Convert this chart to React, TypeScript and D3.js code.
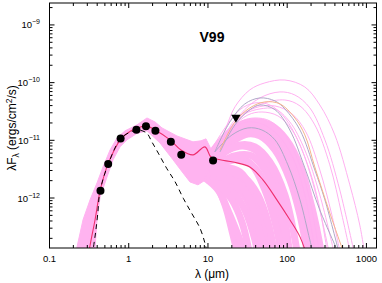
import React from "react";
import * as d3 from "d3";

type Pt = [number, number];

const W = 382;
const H = 283;

// axes
const xTickValues = [0.1, 1, 10, 100, 1000];
const xTickLabels = ["0.1", "1", "10", "100", "1000"];
const yTickValues = [1e-12, 1e-11, 1e-10, 1e-9];
const yTickExponents = ["\u221212", "\u221211", "\u221210", "\u22129"];

// photometry (um, erg/cm2/s)
const obsWave = [0.44, 0.55, 0.79, 1.25, 1.65, 2.17, 3.4, 4.6, 11.6];
const obsFlux = [1.33e-12, 3.9e-12, 1.07e-11, 1.53e-11, 1.75e-11, 1.46e-11, 9.4e-12, 5.6e-12, 4.45e-12];
const limitWave = [22.5];
const limitFlux = [2.5e-11];

// stellar photosphere
const photosphere: Pt[] = [
  [0.35, 1.0e-13], [0.358, 1.36e-13], [0.381, 2.48e-13], [0.405, 5.1e-13], [0.435, 1.33e-12],
  [0.553, 3.9e-12], [0.792, 1.07e-11], [1.09, 1.42e-11], [1.32, 1.51e-11], [1.69, 1.33e-11],
  [1.95, 9.5e-12], [2.36, 6.0e-12], [3.01, 3.28e-12], [3.84, 1.92e-12], [4.88, 9.9e-13],
  [6.22, 5.46e-13], [7.93, 3.0e-13], [9.16, 1.65e-13], [9.8, 1.1e-13], [10.2, 0.9e-13],
];

// best fit model
const bestFit: Pt[] = [
  [0.307, 1.0e-13], [0.335, 1.88e-13], [0.376, 4.2e-13], [0.435, 1.33e-12], [0.548, 3.9e-12],
  [0.8, 1.06e-11], [1.07, 1.46e-11], [1.31, 1.64e-11], [1.65, 1.78e-11], [2.15, 1.51e-11],
  [3.32, 1.02e-11], [4.57, 6.8e-12], [6.47, 5.6e-12], [9.16, 7.7e-12], [10.9, 5.15e-12],
  [14.2, 4.6e-12], [20.7, 4.2e-12], [33.8, 3.46e-12], [49.4, 2.06e-12], [74.1, 9.3e-13],
  [108, 4.2e-13], [145, 2.12e-13], [177, 1.0e-13],
];

// envelope of the model grid, optical to mid-IR
const bandUpper: Pt[] = [
  [0.21, 1.0e-13], [0.223, 1.44e-13], [0.265, 4.2e-13], [0.325, 9.3e-13], [0.398, 1.83e-12],
  [0.474, 3.46e-12], [0.581, 6.8e-12], [0.712, 1.1e-11], [0.898, 1.46e-11], [1.27, 1.85e-11],
  [1.7, 2.44e-11], [2.15, 2.08e-11], [2.63, 1.64e-11], [4.06, 1.19e-11], [6.47, 9.4e-12],
  [8.16, 9.8e-12], [9.44, 1.06e-11], [10.9, 7.1e-12], [12.2, 6.05e-12],
];
const bandLower: Pt[] = [
  [12.2, 2.41e-12], [9.71, 2.14e-12], [7.48, 1.69e-12], [5.93, 1.9e-12], [4.84, 2.72e-12],
  [3.62, 4.6e-12], [2.48, 9.0e-12], [1.7, 1.46e-11], [1.27, 1.32e-11], [0.952, 1.02e-11],
  [0.776, 7.7e-12], [0.634, 4.6e-12], [0.532, 2.32e-12], [0.435, 1.04e-12], [0.398, 4.2e-13],
  [0.376, 1.36e-13], [0.371, 1.0e-13],
];

// individual far-IR models (sparse, upper)
const farTop: Pt[] = [[12.2, 6.8e-12], [16.4, 1.51e-11], [21.9, 3.8e-11], [33.8, 7.5e-11], [52.3, 9.9e-11], [93.5, 1.11e-10], [167, 8.4e-11], [258, 4.1e-11], [399, 1.24e-11], [617, 1.69e-12], [824, 3.4e-13], [960, 1.0e-13]];
const farOrange: Pt[] = [[14.2, 6.8e-12], [21.9, 2.08e-11], [33.8, 3.65e-11], [52.3, 4.63e-11], [80.9, 4.28e-11], [125, 2.44e-11], [167, 1.24e-11], [223, 3.46e-12], [345, 5.5e-13], [533, 1.0e-13]];
const farGrayA: Pt[] = [[14.2, 6.3e-12], [21.9, 1.85e-11], [33.8, 3.4e-11], [45.3, 4.1e-11], [70.0, 3.4e-11], [108, 1.51e-11], [167, 3.33e-12], [258, 6.2e-13], [461, 1.0e-13]];
const farGrayB: Pt[] = [[12.2, 6.3e-12], [18.9, 2.08e-11], [29.2, 4.28e-11], [45.3, 5.43e-11], [70, 4.82e-11], [93.5, 3.5e-11], [145, 1.51e-11], [223, 3.07e-12], [299, 9.3e-13], [461, 1.0e-13]];
const farE: Pt[] = [[12.2, 6.3e-12], [18.9, 1.64e-11], [29.2, 2.87e-11], [45.3, 3.5e-11], [70, 3.5e-11], [108, 2.08e-11], [167, 6.8e-12], [258, 1.13e-12], [399, 1.0e-13]];
const farF: Pt[] = [[10.6, 6.3e-12], [16.4, 1.64e-11], [25.3, 3.4e-11], [39.2, 4.45e-11], [60.5, 4.1e-11], [93.5, 2.44e-11], [145, 8.3e-12], [223, 1.38e-12], [345, 1.0e-13]];
const farG: Pt[] = [[14.2, 6.8e-12], [25.3, 2.75e-11], [45.3, 5.43e-11], [80.9, 6.9e-11], [125, 6.1e-11], [193, 3.65e-11], [299, 1.02e-11], [461, 1.38e-12], [713, 1.0e-13]];
const farTh1: Pt[] = [[12.2, 6.3e-12], [20.1, 1.64e-11], [31.9, 2.75e-11], [48.0, 3.1e-11], [76.4, 2.65e-11], [115, 1.51e-11], [172, 4.6e-12], [244, 9.3e-13], [326, 1.0e-13]];
const farTh2: Pt[] = [[10.6, 5.6e-12], [17.9, 1.4e-11], [26.8, 2.17e-11], [39.2, 2.44e-11], [60.5, 2.17e-11], [93.5, 1.24e-11], [136, 4.6e-12], [193, 9.3e-13], [258, 1.0e-13]];
const farTh3: Pt[] = [[13.4, 6.8e-12], [21.9, 2.26e-11], [39.2, 3.65e-11], [70, 3.94e-11], [115, 2.87e-11], [172, 1.4e-11], [258, 3.07e-12], [366, 5.1e-13], [475, 1.0e-13]];
const farTh4: Pt[] = [[10.6, 4.95e-12], [16.4, 1.15e-11], [23.2, 1.78e-11], [31.9, 2.08e-11], [48.0, 1.92e-11], [76.4, 1.24e-11], [118, 4.95e-12], [167, 1.13e-12], [230, 1.0e-13]];
const farTh5: Pt[] = [[15.0, 7.4e-12], [25.3, 2.44e-11], [48.0, 4.28e-11], [93.5, 5.0e-11], [145, 3.94e-11], [223, 1.85e-11], [345, 3.75e-12], [490, 5.1e-13], [636, 1.0e-13]];

// dense family
const farH: Pt[] = [[10.6, 5.6e-12], [15.0, 1.02e-11], [21.9, 1.64e-11], [33.8, 2.08e-11], [52.3, 1.92e-11], [80.9, 1.24e-11], [125, 4.6e-12], [193, 9.3e-13], [274, 1.0e-13]];
const farI: Pt[] = [[10.6, 4.6e-12], [16.4, 9.0e-12], [25.3, 1.4e-11], [39.2, 1.64e-11], [60.5, 1.4e-11], [93.5, 6.8e-12], [145, 1.69e-12], [223, 1.0e-13]];
const farJ: Pt[] = [[10.6, 3.75e-12], [15.0, 6.8e-12], [21.9, 1.02e-11], [31.9, 1.29e-11], [45.3, 1.19e-11], [70, 6.8e-12], [108, 2.06e-12], [145, 5.1e-13], [182, 1.0e-13]];
const farK: Pt[] = [[10.6, 3.07e-12], [16.4, 6.3e-12], [25.3, 8.3e-12], [39.2, 7.7e-12], [60.5, 4.2e-12], [93.5, 1.13e-12], [136, 1.0e-13]];
const farL: Pt[] = [[10.6, 2.51e-12], [16.4, 4.05e-12], [25.3, 4.6e-12], [39.2, 3.33e-12], [60.5, 1.13e-12], [88.3, 1.0e-13]];
const farM: Pt[] = [[10.6, 2.23e-12], [15.0, 2.51e-12], [21.9, 2.41e-12], [33.8, 1.38e-12], [48.0, 4.2e-13], [64.1, 1.0e-13]];
const farN: Pt[] = [[9.16, 2.51e-12], [12.2, 1.9e-12], [16.4, 7.6e-13], [20.7, 2.3e-13], [23.9, 1.0e-13]];
const farO: Pt[] = [[9.16, 2.23e-12], [13.4, 1.38e-12], [18.9, 5.1e-13], [25.3, 1.88e-13], [30.1, 1.0e-13]];
const farP: Pt[] = [[10.6, 3.33e-12], [16.4, 4.6e-12], [25.3, 4.95e-12], [35.9, 3.75e-12], [52.3, 1.38e-12], [70, 3.86e-13], [85.7, 1.0e-13]];
const farQ: Pt[] = [[12.2, 6.8e-12], [18.9, 1.34e-11], [29.2, 1.92e-11], [45.3, 2.08e-11], [70, 1.64e-11], [108, 8.3e-12], [167, 2.06e-12], [250, 1.0e-13]];
const farS: Pt[] = [[9.71, 2.41e-12], [14.2, 2.06e-12], [20.1, 1.38e-12], [29.2, 6.2e-13], [39.2, 1.88e-13], [42.7, 1.0e-13]];
const farT: Pt[] = [[10.6, 2.83e-12], [16.4, 3.33e-12], [25.3, 2.83e-12], [35.9, 1.38e-12], [48.0, 3.4e-13], [53.9, 1.0e-13]];
const farU: Pt[] = [[10.6, 4.05e-12], [17.9, 6.8e-12], [27.6, 8.0e-12], [42.7, 6.3e-12], [64.1, 2.51e-12], [88.3, 6.2e-13], [108, 1.0e-13]];
const farV: Pt[] = [[10.6, 5.6e-12], [17.9, 1.02e-11], [29.2, 1.34e-11], [48.0, 1.34e-11], [74.1, 9.4e-12], [115, 3.07e-12], [153, 6.2e-13], [182, 1.0e-13]];
const farX: Pt[] = [[10.6, 2.83e-12], [16.4, 4.6e-12], [25.3, 5.6e-12], [35.9, 5.37e-12], [52.3, 3.07e-12], [76.4, 9.3e-13], [105, 1.0e-13]];
const farY: Pt[] = [[9.71, 2.06e-12], [15.0, 1.83e-12], [21.9, 1.62e-12], [31.0, 9.3e-13], [40.3, 3.4e-13], [48.0, 1.0e-13]];
const farZ1: Pt[] = [[9.71, 2.23e-12], [14.2, 1.62e-12], [20.1, 9.3e-13], [26.8, 3.86e-13], [33.8, 1.0e-13]];
const farZ2: Pt[] = [[10.6, 2.41e-12], [16.4, 2.23e-12], [25.3, 1.69e-12], [33.8, 9.3e-13], [42.7, 3.4e-13], [52.3, 1.0e-13]];
const farZ3: Pt[] = [[10.6, 2.62e-12], [17.9, 2.83e-12], [29.2, 2.23e-12], [42.7, 1.13e-12], [57.1, 3.86e-13], [70, 1.0e-13]];
const farW: Pt[] = [[12.2, 6.3e-12], [20.1, 1.24e-11], [31.9, 1.64e-11], [48.0, 1.51e-11], [70, 1.02e-11], [102, 3.75e-12], [145, 9.3e-13], [193, 1.88e-13], [217, 1.0e-13]];

const denseModels = [farH, farI, farJ, farK, farL, farM, farN, farO, farP, farQ, farS, farT, farU, farV, farX, farY, farZ1, farZ2, farZ3];
const thinModels = [farTop, farE, farF, farG, farTh1, farTh2, farTh3, farTh4, farTh5];
const grayModels = [farGrayA, farGrayB, farW];
const orangeModels = [farOrange];

const PINK = "#ffb3f0";
const PINK_THIN = "#ffb0f0";
const font = "'Liberation Sans', Arial, Helvetica, sans-serif";

export default function App() {
  const left = 49.5, right = 376.5, top = 3, bottom = 248;
  const x = d3.scaleLog().domain([0.1, 1340]).range([left, right]);
  const y = d3.scaleLog().domain([1.36e-13, 2.4e-9]).range([bottom, top]);

  const line = d3
    .line<Pt>()
    .x((d) => x(d[0]))
    .y((d) => y(d[1]))
    .curve(d3.curveCatmullRom.alpha(0.5));
  const straight = d3
    .line<Pt>()
    .x((d) => x(d[0]))
    .y((d) => y(d[1]));

  const bandPath = straight([...bandUpper, ...bandLower]) + "Z";

  const xMinor = x.ticks().filter((v) => v <= 1340);
  const yMinor = y.ticks();
  const isMajor = (v: number) => Math.abs(Math.log10(v) - Math.round(Math.log10(v))) < 1e-6;

  const tri = d3.symbol().type(d3.symbolTriangle).size(38)();

  return (
    <svg width={W} height={H} style={{ position: "absolute", left: 0, top: 0, background: "#fff" }} fontFamily={font}>
      <defs>
        <clipPath id="plot">
          <rect x={left} y={top} width={right - left} height={bottom - top} />
        </clipPath>
      </defs>

      <g clipPath="url(#plot)">
        <path d={bandPath} fill={PINK} stroke={PINK} strokeWidth={1} />
        {denseModels.map((m, i) => (
          <path key={"d" + i} d={line(m) || ""} fill="none" stroke={PINK} strokeWidth={7} strokeLinejoin="round" />
        ))}
        {thinModels.map((m, i) => (
          <path key={"t" + i} d={line(m) || ""} fill="none" stroke={PINK_THIN} strokeWidth={1} />
        ))}
        {grayModels.map((m, i) => (
          <path key={"g" + i} d={line(m) || ""} fill="none" stroke="#b0a8c8" strokeWidth={1} />
        ))}
        {orangeModels.map((m, i) => (
          <path key={"o" + i} d={line(m) || ""} fill="none" stroke="#f4b48c" strokeWidth={1} />
        ))}
        <path d={line(bestFit) || ""} fill="none" stroke="#ee2f6e" strokeWidth={1.1} />
        <path d={line(photosphere) || ""} fill="none" stroke="#000" strokeWidth={1} strokeDasharray="5,4" />
        {obsWave.map((w, i) => (
          <circle key={"p" + i} cx={x(w)} cy={y(obsFlux[i])} r={4} fill="#000" />
        ))}
        {limitWave.map((w, i) => (
          <path key={"l" + i} d={tri || ""} transform={`translate(${x(w)},${y(limitFlux[i])}) rotate(180)`} fill="#000" />
        ))}
      </g>

      {/* frame */}
      <rect x={left} y={top} width={right - left} height={bottom - top} fill="none" stroke="#000" strokeWidth={1} />

      {/* ticks on all four sides, pointing inward */}
      {xMinor.map((v, i) => {
        const len = isMajor(v) ? 5 : 3;
        const px = x(v);
        return (
          <g key={"xt" + i} stroke="#000" strokeWidth={1}>
            <line x1={px} x2={px} y1={bottom} y2={bottom - len} />
            <line x1={px} x2={px} y1={top} y2={top + len} />
          </g>
        );
      })}
      {yMinor.map((v, i) => {
        const len = isMajor(v) ? 5 : 3;
        const py = y(v);
        return (
          <g key={"yt" + i} stroke="#000" strokeWidth={1}>
            <line x1={left} x2={left + len} y1={py} y2={py} />
            <line x1={right} x2={right - len} y1={py} y2={py} />
          </g>
        );
      })}

      {xTickValues.map((v, i) => (
        <text key={"xl" + i} x={x(v)} y={262} fontSize={9.5} textAnchor="middle" fill="#000">
          {xTickLabels[i]}
        </text>
      ))}
      {yTickValues.map((v, i) => (
        <text key={"yl" + i} x={40} y={y(v) + 3.5} fontSize={9.5} textAnchor="end" fill="#000">
          10
          <tspan fontSize={7} dy={-4}>
            {yTickExponents[i]}
          </tspan>
        </text>
      ))}

      <text x={212} y={278} fontSize={12} textAnchor="middle" fill="#000">
        {"\u03bb (\u03bcm)"}
      </text>
      <text transform="translate(16,128) rotate(-90)" fontSize={12} textAnchor="middle" fill="#000">
        {"\u03bbF"}
        <tspan fontSize={8.5} dy={2.5}>
          {"\u03bb"}
        </tspan>
        <tspan dy={-2.5}>{" (ergs/cm"}</tspan>
        <tspan fontSize={8.5} dy={-4.5}>
          2
        </tspan>
        <tspan dy={4.5}>{"/s)"}</tspan>
      </text>

      <text x={212} y={42} fontSize={14} fontWeight="bold" textAnchor="middle" fill="#000">
        V99
      </text>
    </svg>
  );
}
